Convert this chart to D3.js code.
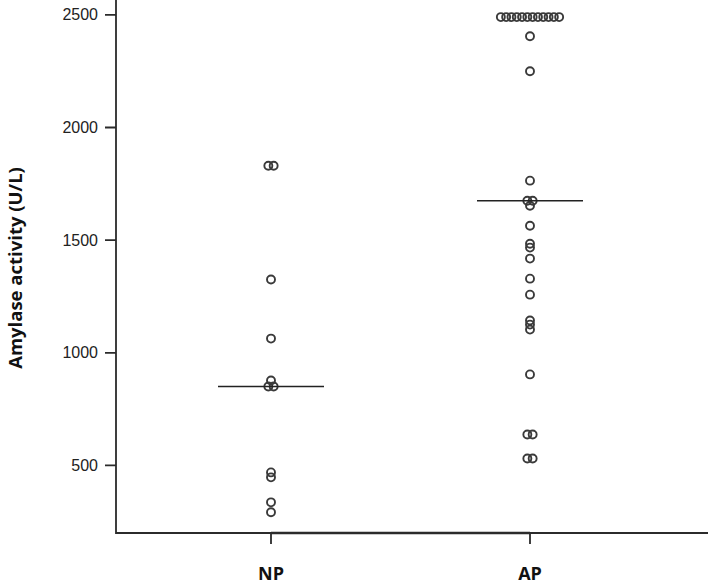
<!DOCTYPE html>
<html>
<head>
<meta charset="utf-8">
<script src="https://cdn.jsdelivr.net/npm/d3@7"></script>
<style>
  body { margin: 0; background: #fff; }
  svg { display: block; }
</style>
</head>
<body>
<div id="chart"></div>
<script>
var groups = ["NP", "AP"]
var np_values = [1830, 1830, 1325, 1063, 877, 850, 850, 469, 447, 336, 292]
var ap_values = [2490, 2490, 2490, 2490, 2490, 2490, 2490, 2490, 2490, 2490, 2490, 2490,
                 2405, 2250, 1764, 1675, 1675, 1653, 1564, 1484, 1467, 1418,
                 1329, 1258, 1143, 1125, 1103, 904, 637, 637, 531, 531]
var y_ticks = [500, 1000, 1500, 2000, 2500]

var width = 709, height = 587
var margin = {top: 0, right: 1, bottom: 54, left: 116}

var svg = d3.select("#chart").append("svg")
    .attr("width", width)
    .attr("height", height)

var x = d3.scalePoint()
    .domain(groups)
    .range([271, 530])

var y = d3.scaleLinear()
    .domain([200, 2566])
    .range([height - margin.bottom, margin.top])

var ink = "#2b2b2b"

// L shaped box plus tick marks, one path
var p = d3.path()
p.moveTo(margin.left, y(2566))
p.lineTo(margin.left, y(200))
p.lineTo(width - margin.right, y(200))
y_ticks.forEach(function(t) {
    p.moveTo(margin.left - 11, y(t))
    p.lineTo(margin.left, y(t))
})
groups.forEach(function(g) {
    p.moveTo(x(g), y(200))
    p.lineTo(x(g), y(200) + 11)
})
svg.append("path")
    .attr("d", p.toString())
    .attr("fill", "none")
    .attr("stroke", ink)
    .attr("stroke-width", 1.8)

// heavier axis segment between the two categories
svg.append("line")
    .attr("x1", x("NP")).attr("x2", x("AP"))
    .attr("y1", y(200)).attr("y2", y(200))
    .attr("stroke", ink)
    .attr("stroke-width", 2.6)

// y tick labels from d3.axisLeft
var yAxis = svg.append("g")
    .attr("transform", "translate(" + margin.left + ",0)")
    .call(d3.axisLeft(y).tickValues(y_ticks).tickSize(10).tickPadding(8).tickFormat(d3.format("d")))
yAxis.select(".domain").remove()
yAxis.selectAll(".tick line").remove()
yAxis.selectAll(".tick text")
    .attr("fill", "#222")
    .style("font-family", "'Liberation Sans', Arial, sans-serif")
    .style("font-size", "16px")

svg.selectAll(".group-label")
    .data(groups)
    .enter().append("text")
    .attr("class", "group-label")
    .attr("x", function(d) { return x(d); })
    .attr("y", 580)
    .attr("text-anchor", "middle")
    .style("font-family", "'Open Sans', sans-serif")
    .style("font-weight", "bold")
    .style("font-size", "18px")
    .attr("fill", "#111")
    .text(function(d) { return d; })

svg.append("text")
    .attr("transform", "translate(22,268) rotate(-90)")
    .attr("text-anchor", "middle")
    .style("font-family", "'Open Sans', sans-serif")
    .style("font-weight", "bold")
    .style("font-size", "18.5px")
    .attr("fill", "#111")
    .text("Amylase activity (U/L)")

// simple swarm: equal values spread sideways
var spacing = 5.3
function swarm(values, group) {
    var counts = d3.rollup(values, function(v) { return v.length; }, function(d) { return d; })
    var seen = new Map()
    return values.map(function(v) {
        var n = counts.get(v)
        var i = seen.get(v) || 0
        seen.set(v, i + 1)
        return {group: group, value: v, dx: (i - (n - 1) / 2) * spacing}
    })
}

var points = swarm(np_values, "NP").concat(swarm(ap_values, "AP"))

svg.selectAll("circle.pt")
    .data(points)
    .enter().append("circle")
    .attr("class", "pt")
    .attr("cx", function(d) { return x(d.group) + d.dx; })
    .attr("cy", function(d) { return y(d.value); })
    .attr("r", 4)
    .attr("fill", "none")
    .attr("stroke", "#3a3a3a")
    .attr("stroke-width", 1.9)

// medians
var medians = [
    {group: "NP", value: d3.median(np_values)},
    {group: "AP", value: d3.median(ap_values)}
]
svg.selectAll("line.median")
    .data(medians)
    .enter().append("line")
    .attr("class", "median")
    .attr("x1", function(d) { return x(d.group) - 53; })
    .attr("x2", function(d) { return x(d.group) + 53; })
    .attr("y1", function(d) { return y(d.value); })
    .attr("y2", function(d) { return y(d.value); })
    .attr("stroke", "#222")
    .attr("stroke-width", 1.6)
</script>
</body>
</html>
